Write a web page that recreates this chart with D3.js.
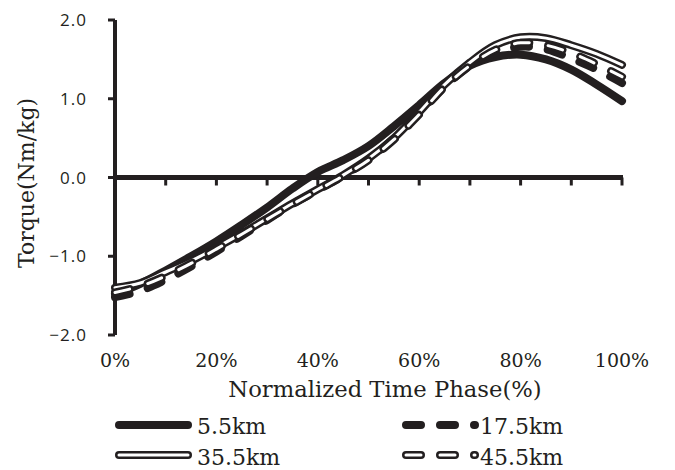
<!DOCTYPE html>
<html>
<head>
<meta charset="utf-8">
<script src="https://cdn.jsdelivr.net/npm/d3@7"></script>
<style>
  body { margin: 0; background: #fff; }
  svg { display: block; }
</style>
</head>
<body>
<svg id="chart" width="675" height="470"></svg>
<script>
var phase = [0, 5, 10, 15, 20, 25, 30, 35, 40, 45, 50, 55, 60, 65, 70, 75, 80, 85, 90, 95, 100];

var km5 = [-1.48, -1.35, -1.18, -1.00, -0.81, -0.60, -0.38, -0.14, 0.07, 0.22, 0.40,
           0.65, 0.92, 1.20, 1.42, 1.53, 1.56, 1.50, 1.37, 1.18, 0.97];
var km17 = [-1.52, -1.44, -1.30, -1.13, -0.94, -0.74, -0.54, -0.34, -0.16, 0.02, 0.23,
            0.50, 0.82, 1.15, 1.42, 1.58, 1.66, 1.63, 1.51, 1.37, 1.20];
var km35 = [-1.40, -1.34, -1.20, -1.06, -0.89, -0.71, -0.52, -0.33, -0.15, 0.03, 0.24,
            0.50, 0.83, 1.18, 1.46, 1.68, 1.78, 1.77, 1.68, 1.57, 1.43];
var km45 = [-1.46, -1.38, -1.25, -1.09, -0.91, -0.72, -0.53, -0.34, -0.16, 0.02, 0.22,
            0.48, 0.80, 1.15, 1.42, 1.62, 1.71, 1.68, 1.58, 1.44, 1.28];

var seriesNames = ["5.5km", "17.5km", "35.5km", "45.5km"];
var yTicks = [2, 1, 0, -1, -2];
var xTickLabels = [0, 20, 40, 60, 80, 100];

// line styles per series: dashed? double?
var styles = [
  {dash: null, dbl: false},
  {dash: "15 19", dbl: false},
  {dash: null, dbl: true},
  {dash: "15 19", dbl: true}
];

var svg = d3.select("#chart");
var x = d3.scaleLinear().domain([0, 100]).range([115, 622]);
var y = d3.scaleLinear().domain([-2, 2]).range([335, 20]);

var serif = "'DejaVu Serif', serif";

// y axis
svg.append("line")
  .attr("x1", x(0)).attr("x2", x(0))
  .attr("y1", y(2)).attr("y2", y(-2))
  .attr("stroke", "#231f20").attr("stroke-width", 4);

svg.selectAll(".ytick").data(yTicks).enter().append("line")
  .attr("x1", x(0) - 7).attr("x2", x(0))
  .attr("y1", function(d) { return y(d); })
  .attr("y2", function(d) { return y(d); })
  .attr("stroke", "#231f20").attr("stroke-width", 3);

svg.selectAll(".ylab").data(yTicks).enter().append("text")
  .attr("x", 87)
  .attr("y", function(d) { return y(d); })
  .attr("dy", "0.36em")
  .attr("text-anchor", "end")
  .attr("font-family", "'Open Sans', sans-serif")
  .attr("font-size", 17)
  .attr("letter-spacing", 1)
  .attr("fill", "#231f20")
  .text(function(d) { return d3.format(".1f")(d); });

// x axis at y = 0, ticks every 10%
svg.append("line")
  .attr("x1", x(0) - 1).attr("x2", x(100) + 1)
  .attr("y1", y(0)).attr("y2", y(0))
  .attr("stroke", "#231f20").attr("stroke-width", 5);

svg.selectAll(".xtick").data(d3.range(0, 101, 10)).enter().append("line")
  .attr("x1", function(d) { return x(d); })
  .attr("x2", function(d) { return x(d); })
  .attr("y1", y(0)).attr("y2", y(0) + 8)
  .attr("stroke", "#231f20").attr("stroke-width", 3);

svg.selectAll(".xlab").data(xTickLabels).enter().append("text")
  .attr("x", function(d) { return x(d); })
  .attr("y", 367)
  .attr("text-anchor", "middle")
  .attr("font-family", serif)
  .attr("font-size", 19)
  .attr("fill", "#231f20")
  .text(function(d) { return d + "%"; });

// axis titles
svg.append("text")
  .attr("x", 385).attr("y", 397)
  .attr("text-anchor", "middle")
  .attr("font-family", serif)
  .attr("font-size", 22.7)
  .attr("fill", "#231f20")
  .text("Normalized Time Phase(%)");

svg.append("text")
  .attr("transform", "translate(34,183) rotate(-90)")
  .attr("text-anchor", "middle")
  .attr("font-family", serif)
  .attr("font-size", 22)
  .attr("fill", "#231f20")
  .text("Torque(Nm/kg)");

// lines
var line = d3.line()
  .x(function(d) { return x(d[0]); })
  .y(function(d) { return y(d[1]); })
  .curve(d3.curveCatmullRom.alpha(0.5));

var allSeries = [km5, km17, km35, km45];

function drawStroke(sel, st) {
  sel.attr("fill", "none")
    .attr("stroke", "#231f20")
    .attr("stroke-width", 8)
    .attr("stroke-linecap", "round")
    .attr("stroke-linejoin", "round")
    .attr("stroke-dasharray", st.dash);
}
function drawInner(sel, st) {
  sel.attr("fill", "none")
    .attr("stroke", "#fff")
    .attr("stroke-width", 3)
    .attr("stroke-linecap", "round")
    .attr("stroke-linejoin", "round")
    .attr("stroke-dasharray", st.dash);
}

allSeries.forEach(function(vals, i) {
  var pts = phase.map(function(p, j) { return [p, vals[j]]; });
  var st = styles[i];
  svg.append("path").attr("d", line(pts)).call(drawStroke, st);
  if (st.dbl) svg.append("path").attr("d", line(pts)).call(drawInner, st);
});

// legend
var legendPos = [
  {lx: 119, ly: 425, tx: 197, ty: 434},
  {lx: 406, ly: 425, tx: 480, ty: 434},
  {lx: 119, ly: 455, tx: 197, ty: 465},
  {lx: 406, ly: 455, tx: 480, ty: 465}
];

seriesNames.forEach(function(name, i) {
  var p = legendPos[i], st = styles[i];
  var seg = d3.line()([[p.lx, p.ly], [p.lx + 69, p.ly]]);
  svg.append("path").attr("d", seg).call(drawStroke, st);
  if (st.dbl) svg.append("path").attr("d", seg).call(drawInner, st);
  svg.append("text")
    .attr("x", p.tx).attr("y", p.ty)
    .attr("font-family", serif)
    .attr("font-size", 22)
    .attr("fill", "#231f20")
    .text(name);
});
</script>
</body>
</html>
